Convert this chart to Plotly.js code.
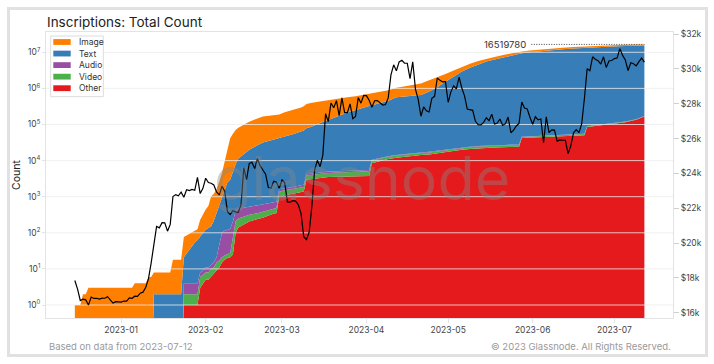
<!DOCTYPE html>
<html><head><meta charset="utf-8">
<script src="https://cdn.plot.ly/plotly-3.0.1.min.js"></script>
<style>
html,body{margin:0;padding:0;background:#fff;}
#chart{width:714px;height:364px;}
#card{position:absolute;left:7px;top:7px;width:701px;height:350px;box-sizing:border-box;border:3px solid #e1e1e1;pointer-events:none;}
</style>
</head><body>
<div id="chart"></div><div id="card"></div>
<script>
const areaDates = ['2022-12-15','2022-12-17','2022-12-18','2022-12-19','2022-12-20',
'2023-01-05','2023-01-06','2023-01-10','2023-01-11','2023-01-12','2023-01-13','2023-01-19','2023-01-20','2023-01-23','2023-01-24','2023-01-26','2023-01-28','2023-01-29','2023-01-30','2023-01-31',
'2023-02-01','2023-02-02','2023-02-03','2023-02-04','2023-02-05','2023-02-06','2023-02-07','2023-02-08','2023-02-09','2023-02-10','2023-02-11','2023-02-12','2023-02-13','2023-02-15','2023-02-17','2023-02-20','2023-02-22','2023-02-25','2023-02-27','2023-02-28',
'2023-03-02','2023-03-05','2023-03-08','2023-03-09','2023-03-10','2023-03-12','2023-03-15','2023-03-18','2023-03-22','2023-03-25','2023-03-28','2023-03-31',
'2023-04-02','2023-04-03','2023-04-06','2023-04-09','2023-04-12','2023-04-15','2023-04-18','2023-04-21','2023-04-24','2023-04-27','2023-04-30',
'2023-05-03','2023-05-06','2023-05-09','2023-05-12','2023-05-15','2023-05-18','2023-05-22','2023-05-26','2023-05-27','2023-05-28','2023-05-31',
'2023-06-04','2023-06-08','2023-06-12','2023-06-16','2023-06-19','2023-06-20','2023-06-21','2023-06-25','2023-06-30',
'2023-07-05','2023-07-09','2023-07-12'];

const seriesNames = ['Image','Text','Audio','Video','Other'];
const seriesColors = ['#ff7f00','#377eb8','#984ea3','#4daf4a','#e41a1c'];

const imageCount = [1,1,2,2,3,
3,4,4,6,6,6,6,16,16,56,60,62,63,150,230,
320,420,860,1000,1250,2000,3500,8000,20000,38700,50000,62000,70000,85000,100000,120000,134000,140000,146000,149000,
170000,195000,230000,250000,290000,310000,325000,335000,345000,350000,355000,360000,
370000,375000,400000,430000,480000,560000,640000,720000,850000,920000,970000,
1000000,1050000,1080000,1100000,1120000,1130000,1140000,1150000,1150000,1155000,1160000,
1170000,1175000,1180000,1185000,1190000,1192000,1195000,1200000,1205000,
1210000,1215000,1215000];

const textCount = [0,0,0,0,0,
0,0,0,0,0,2,2,2,2,17,30,50,59,71,90,
110,125,140,200,334,550,900,1500,2400,2840,5000,7500,11000,15000,19500,26000,31000,36000,39000,40000,
45000,52000,62000,66000,75000,83000,105000,132000,170000,210000,250000,300000,
320000,330000,380000,440000,550000,580000,600000,640000,800000,1050000,1500000,
2100000,2900000,3700000,4600000,5500000,6300000,7500000,8800000,9000000,9300000,10000000,
10800000,11500000,12100000,12700000,13100000,13250000,13400000,13900000,14400000,
14750000,14950000,15133030];

const audioCount = [0,0,0,0,0,
0,0,0,0,0,0,0,0,0,2,2,2,2,2,2,
3,3,3,4,6,30,80,90,95,100,130,200,210,210,210,220,220,220,230,230,
240,250,260,270,350,380,400,420,440,450,460,470,
480,500,520,550,580,600,620,650,680,700,720,
740,760,780,800,820,840,860,880,890,900,920,
940,960,980,1000,1020,1030,1040,1080,1120,
1160,1200,1250];

const videoCount = [0,0,0,0,0,
0,0,0,0,0,0,0,0,0,1,1,1,1,3,3,
3,3,4,4,6,6,6,6,6,6,50,110,110,110,110,110,115,125,135,380,
400,420,450,460,900,950,1000,1050,1100,1150,1200,1250,
1300,1500,1600,1700,1800,1900,1950,2000,2050,2100,2150,
2200,2300,2400,2500,2600,2700,2800,2900,2950,3000,3100,
3200,3300,3400,3500,3600,3650,3700,3900,4100,
4300,4400,4500];

const otherCount = [0,0,0,0,0,
0,0,0,0,0,0,0,0,0,1,1,1,1,3,4,
5,5,6,7,9,11,15,18,20,21,25,100,140,170,204,240,263,320,355,1000,
1100,1200,1380,1400,2950,3100,3300,3500,3550,3600,3650,3700,
3750,8500,9800,11000,12000,12800,13500,14200,14800,16000,17500,
19000,20000,21000,22000,22500,23000,23500,24000,24200,42000,43000,
44500,46000,47500,49000,50000,50500,85000,92000,100000,
115000,135000,166000];

const priceStart = '2022-12-15';
const priceUsd = [
17850,17350,16700,16780,16740,16440,16900,16820,16830,16780,16840,16830,16920,16700,16550,16630,16600,
16610,16670,16670,16850,16830,16950,16940,17120,17180,17440,17940,18850,19930,20950,20870,21170,21160,20680,21070,22670,22780,22710,22920,22630,23060,23010,23080,23030,23770,22840,23140,
23720,23470,23430,23330,22930,22760,23260,22960,21800,21630,21860,21790,21780,22200,24330,23640,24570,24630,24280,24840,24440,24190,23950,23190,23150,23550,23490,23140,
23630,23470,22360,22350,22430,22410,22200,21700,20360,20190,20630,22160,24200,24750,24380,25050,27420,26970,28040,27770,28170,27310,28330,27490,27490,27990,27140,27270,28350,28030,28480,
28460,28200,27800,28170,28180,28040,27920,27950,28330,29650,30230,29890,30400,30490,30320,30320,29440,30400,28820,28250,27280,27820,27590,27530,28310,28420,29470,29340,29250,29270,
28080,28680,29030,28850,29530,28900,28450,27690,27650,27620,26990,26800,26780,26930,27190,27030,27400,26830,26890,27120,26750,26850,27230,26330,26480,26720,26870,28090,27750,27700,27220,
26820,27250,27070,27120,25760,27240,26340,26500,26480,25850,25920,25900,25900,25130,25580,26330,26510,26340,26850,28310,30010,29890,30690,30550,30470,30270,30690,30080,30450,30480,
30590,30620,31160,30770,30510,29900,30350,30290,30170,30410,30620,30390];

const yTickVals = [1,10,100,1000,10000,100000,1000000,10000000];
const yTickText = ['10<sup>0</sup>','10<sup>1</sup>','10<sup>2</sup>','10<sup>3</sup>','10<sup>4</sup>','10<sup>5</sup>','10<sup>6</sup>','10<sup>7</sup>'];

// ---- layout constants ----
const W = 714, H = 364;
const M = {l:46, r:41, t:32, b:46};
const PW = W - M.l - M.r, PH = H - M.t - M.b;
const xRange = ['2022-12-04 10:00','2023-07-22 12:00'];
const FONT = 'Inter, "Noto Sans", "DejaVu Sans", sans-serif';
const px2x = x => (x - M.l) / PW;
const px2y = y => (H - M.b - y) / PH;

// price dates
const p0 = Date.parse(priceStart + 'T00:00:00Z');
const priceDates = priceUsd.map((_, i) => new Date(p0 + i * 864e5).toISOString().slice(0, 10));

// stacking (bottom to top)
const bottomUp = [
  {name:'Other', vals: otherCount, color: seriesColors[4]},
  {name:'Video', vals: videoCount, color: seriesColors[3]},
  {name:'Audio', vals: audioCount, color: seriesColors[2]},
  {name:'Text', vals: textCount, color: seriesColors[1]},
  {name:'Image', vals: imageCount, color: seriesColors[0]}
];
const FLOOR = 1e-3;
let cum = areaDates.map(() => 0);
const traces = [];
bottomUp.forEach((s, k) => {
  cum = cum.map((c, i) => c + s.vals[i]);
  traces.push({
    x: areaDates, y: cum.map(v => v > 0 ? v : FLOOR),
    type: 'scatter', mode: 'lines', name: s.name,
    line: {width: 0, color: s.color},
    fill: k === 0 ? 'tozeroy' : 'tonexty', fillcolor: s.color,
    hoverinfo: 'skip', showlegend: false
  });
});
const total = cum[cum.length - 1];
const lastDate = areaDates[areaDates.length - 1];

// gridlines drawn above areas
const gx = [], gy = [];
yTickVals.forEach(v => { gx.push(xRange[0], xRange[1], null); gy.push(v, v, null); });
traces.push({x: gx, y: gy, type: 'scatter', mode: 'lines', line: {color: 'rgba(236,236,236,0.8)', width: 1}, hoverinfo: 'skip', showlegend: false});

// dotted guide to the latest total
const dotStart = new Date(Date.parse(lastDate + 'T00:00:00Z') - 41.5 * 864e5).toISOString();
traces.push({x: [dotStart, lastDate], y: [total, total], type: 'scatter', mode: 'lines',
  line: {color: '#444', width: 1, dash: '1px,1.5px'}, hoverinfo: 'skip', showlegend: false});

// price
traces.push({x: priceDates, y: priceUsd, type: 'scatter', mode: 'lines', yaxis: 'y2',
  line: {color: '#000', width: 1.2}, hoverinfo: 'skip', showlegend: false, name: 'Price'});

// custom legend
const shapes = [];
const annotations = [];
shapes.push({type: 'rect', xref: 'paper', yref: 'paper', layer: 'above',
  x0: px2x(50.7), x1: px2x(103.3), y0: px2y(96.7), y1: px2y(36),
  fillcolor: '#fff', line: {color: '#dcdcdc', width: 1}});
seriesNames.forEach((n, i) => {
  const yc = 42 + i * 11.55;
  shapes.push({type: 'rect', xref: 'paper', yref: 'paper', layer: 'above',
    x0: px2x(53.3), x1: px2x(70.7), y0: px2y(yc + 2.9), y1: px2y(yc - 2.9),
    fillcolor: seriesColors[i], line: {width: 0}});
  annotations.push({xref: 'paper', yref: 'paper', x: px2x(77), y: px2y(yc), xanchor: 'left', yanchor: 'middle',
    text: n, showarrow: false, font: {family: FONT, size: 8.5, color: '#333'}});
});

// watermark
annotations.push({xref: 'paper', yref: 'paper', x: px2x(362), y: px2y(178), xanchor: 'center', yanchor: 'middle',
  text: 'glassnode', showarrow: false, font: {family: FONT, size: 61, color: 'rgba(135,135,135,0.4)'}});

// total label
annotations.push({xref: 'x', yref: 'y', x: dotStart, y: Math.log10(total), xanchor: 'right', yanchor: 'middle', xshift: -3,
  text: String(total), showarrow: false, font: {family: FONT, size: 9.5, color: '#333'}});

// footer
annotations.push({xref: 'paper', yref: 'paper', x: px2x(47), y: px2y(346), xanchor: 'left', yanchor: 'middle',
  text: 'Based on data from 2023-07-12', showarrow: false, font: {family: FONT, size: 9.5, color: '#9a9a9a'}});
annotations.push({xref: 'paper', yref: 'paper', x: 1, y: px2y(346), xanchor: 'right', yanchor: 'middle',
  text: '© 2023 Glassnode. All Rights Reserved.', showarrow: false, font: {family: FONT, size: 9.5, color: '#9a9a9a'}});

const axisLine = '#e3e3e3';
const layout = {
  width: W, height: H, margin: M,
  paper_bgcolor: '#fff', plot_bgcolor: '#fff',
  font: {family: FONT, color: '#333'},
  showlegend: false,
  title: {text: 'Inscriptions: Total Count', font: {family: FONT, size: 13.5, color: '#222'},
    xref: 'container', x: 47 / W, xanchor: 'left', yref: 'container', y: 1 - 22 / H, yanchor: 'middle'},
  xaxis: {type: 'date', range: xRange, tick0: '2023-01-01', dtick: 'M1', tickformat: '%Y-%m',
    showgrid: false, zeroline: false, showline: true, mirror: true, linecolor: axisLine, linewidth: 1,
    ticks: 'outside', ticklen: 4, tickcolor: axisLine, tickfont: {family: FONT, size: 8.5, color: '#444'}},
  yaxis: {type: 'log', range: [-0.36, 7.562], tickvals: yTickVals, ticktext: yTickText,
    showgrid: false, zeroline: false, showline: true, mirror: true, linecolor: axisLine, linewidth: 1,
    ticks: 'outside', ticklen: 3, tickcolor: axisLine, tickfont: {family: FONT, size: 8.5, color: '#444'},
    title: {text: 'Count', font: {family: FONT, size: 10.5, color: '#222'}, standoff: 4}},
  yaxis2: {overlaying: 'y', side: 'right', range: [15696, 32115], tick0: 16000, dtick: 2000,
    tickformat: '~s', tickprefix: '$', showgrid: false, zeroline: false, showline: false,
    ticks: 'outside', ticklen: 5, tickcolor: '#cfcfcf', tickfont: {family: FONT, size: 8.5, color: '#444'}},
  shapes: shapes,
  annotations: annotations
};

Plotly.newPlot('chart', traces, layout, {staticPlot: true, displayModeBar: false});
</script>
</body></html>
